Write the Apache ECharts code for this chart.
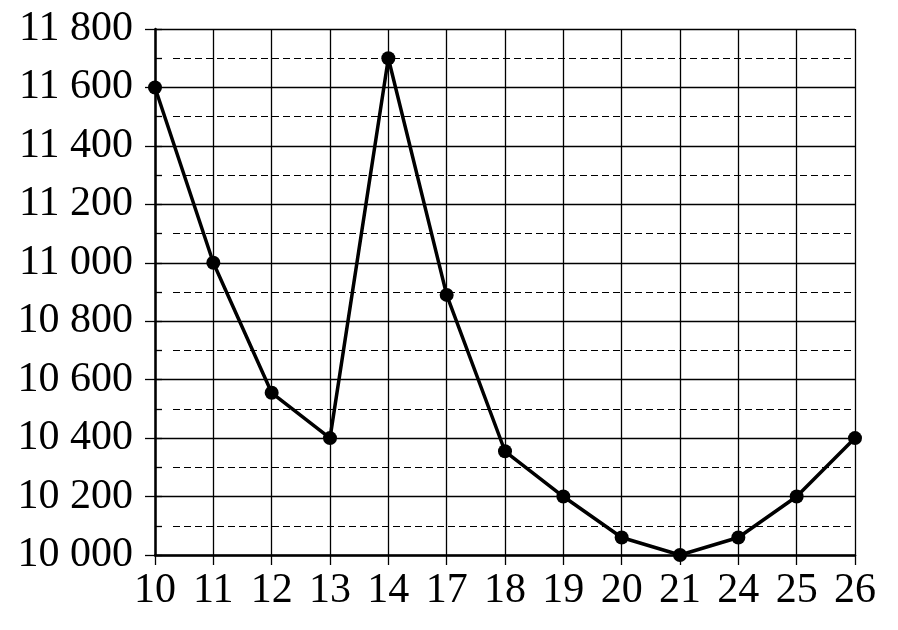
<!DOCTYPE html>
<html>
<head>
<meta charset="utf-8">
<script src="https://cdn.jsdelivr.net/npm/echarts@6/dist/echarts.min.js"></script>
<style>html,body{margin:0;padding:0;background:#fff;}#c{width:898px;height:630px;}</style>
</head>
<body>
<div id="c"></div>
<script>
var categories = ['10','11','12','13','14','17','18','19','20','21','24','25','26'];
var values = [11600, 11000, 10555, 10400, 11700, 10890, 10355, 10200, 10060, 10000, 10060, 10200, 10400];
var yMin = 10000, yMax = 11800, yStep = 200;

var chart = echarts.init(document.getElementById('c'), null, {renderer: 'canvas'});
var font = '"Liberation Serif", "Times New Roman", serif';
function fmt(v){ var s = String(v); return s.slice(0, s.length-3) + ' ' + s.slice(-3); }
chart.setOption({
  animation: false,
  backgroundColor: '#fff',
  grid: [
    {left: 155, right: 43, top: 29, bottom: 75},
    {left: 173, right: 43, top: 29, bottom: 75}
  ],
  xAxis: [
    {type: 'category', gridIndex: 0, data: categories, boundaryGap: false,
     axisLine: {lineStyle: {color: '#000', width: 2.5}},
     axisTick: {show: true, inside: false, length: 10, lineStyle: {color: '#000', width: 1.3}},
     axisLabel: {color: '#000', fontFamily: font, fontSize: 42, margin: 15, interval: 0},
     splitLine: {show: true, lineStyle: {color: '#000', width: 1.3}}
    },
    {type: 'category', gridIndex: 1, data: categories, boundaryGap: false, show: false}
  ],
  yAxis: [
    {type: 'value', gridIndex: 0, min: yMin, max: yMax, interval: yStep,
     axisLine: {show: true, lineStyle: {color: '#000', width: 2.5}},
     axisTick: {show: true, inside: false, length: 10, lineStyle: {color: '#000', width: 1.3}},
     axisLabel: {color: '#000', fontFamily: font, fontSize: 42, margin: 22, formatter: fmt},
     splitLine: {show: true, showMinLine: true, showMaxLine: true, lineStyle: {color: '#000', width: 1.3}}
    },
    {type: 'value', gridIndex: 0, min: yMin, max: yMax, interval: yStep/2, position: 'left',
     axisLine: {show: false},
     axisTick: {show: true, inside: true, length: 7, lineStyle: {color: '#000', width: 1.3}},
     axisLabel: {show: false},
     splitLine: {show: false}
    },
    {type: 'value', gridIndex: 1, min: yMin, max: yMax, interval: yStep,
     axisLine: {show: false}, axisTick: {show: false}, axisLabel: {show: false},
     splitLine: {show: false},
     minorTick: {show: false, splitNumber: 2},
     minorSplitLine: {show: true, lineStyle: {color: '#000', width: 1.2, type: [7, 4]}}
    }
  ],
  series: [{
    type: 'line', xAxisIndex: 0, yAxisIndex: 0, data: values,
    symbol: 'circle', symbolSize: 14,
    lineStyle: {color: '#000', width: 3.5},
    itemStyle: {color: '#000'},
    z: 10
  }]
});
</script>
</body>
</html>
